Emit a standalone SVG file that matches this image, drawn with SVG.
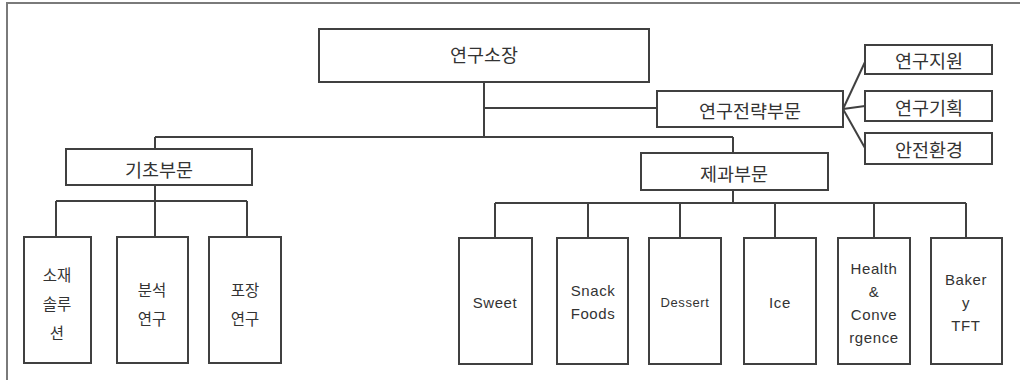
<svg xmlns="http://www.w3.org/2000/svg" width="1020" height="380" viewBox="0 0 1020 380">
<style>
.box{fill:#fff;stroke:#404040;stroke-width:2}
.ln{fill:none;stroke:#404040;stroke-width:2}
.frame{fill:none;stroke:#7a7a7a;stroke-width:2}
.ko{font-family:"Noto Sans CJK KR","Noto Sans",sans-serif;fill:#333;text-anchor:middle;dominant-baseline:central}
.big{font-size:18.5px}
.sm{font-size:15.5px}
.en{font-family:"Liberation Sans",Arial,sans-serif;font-size:15px;fill:#333;text-anchor:middle;dominant-baseline:central;letter-spacing:0.6px}
</style>
<rect width="1020" height="380" fill="#fff"/>
<path class="frame" d="M7,380 V3 H1020"/>
<g id="connectors">
<path class="ln" d="M484,82 V137"/>
<path class="ln" d="M484,108 H657"/>
<path class="ln" d="M155,137 H733"/>
<path class="ln" d="M155,137 V149"/>
<path class="ln" d="M733,137 V153"/>
<path class="ln" d="M843,109 L865,62"/>
<path class="ln" d="M843,109 L865,106"/>
<path class="ln" d="M843,109 L865,148"/>
<path class="ln" d="M155,185 V237"/>
<path class="ln" d="M56,201 H247"/>
<path class="ln" d="M56,201 V237 M247,201 V237"/>
<path class="ln" d="M733,190 V203"/>
<path class="ln" d="M495,203 H966"/>
<path class="ln" d="M495,203 V238 M588,203 V238 M680,203 V238 M775,203 V238 M874,203 V238 M966,203 V238"/>
</g>
<g id="n-director"><rect class="box" x="319" y="29" width="330" height="53"/><text class="ko big" x="484" y="54">연구소장</text></g>
<g id="n-strategy"><rect class="box" x="657" y="91" width="186" height="36"/><text class="ko big" x="750" y="110">연구전략부문</text></g>
<g id="n-support"><rect class="box" x="865" y="45" width="127" height="29"/><text class="ko big" x="929" y="60">연구지원</text></g>
<g id="n-planning"><rect class="box" x="865" y="91" width="127" height="30"/><text class="ko big" x="929" y="107">연구기획</text></g>
<g id="n-safety"><rect class="box" x="865" y="133" width="127" height="31"/><text class="ko big" x="929" y="149">안전환경</text></g>
<g id="n-basic"><rect class="box" x="66" y="149" width="186" height="36"/><text class="ko big" x="159" y="169">기초부문</text></g>
<g id="n-confect"><rect class="box" x="641" y="153" width="187" height="37"/><text class="ko big" x="734" y="173">제과부문</text></g>
<g id="n-material"><rect class="box" x="24" y="237" width="67" height="126"/><text class="ko sm" x="57" y="274">소재</text><text class="ko sm" x="57" y="303">솔루</text><text class="ko sm" x="57" y="332">션</text></g>
<g id="n-analysis"><rect class="box" x="117" y="237" width="71" height="126"/><text class="ko sm" x="152" y="289">분석</text><text class="ko sm" x="152" y="318">연구</text></g>
<g id="n-packaging"><rect class="box" x="209" y="237" width="72" height="126"/><text class="ko sm" x="245" y="289">포장</text><text class="ko sm" x="245" y="318">연구</text></g>
<g id="n-sweet"><rect class="box" x="459" y="238" width="73" height="126"/><text class="en" x="495" y="302">Sweet</text></g>
<g id="n-snack"><rect class="box" x="557" y="238" width="71" height="126"/><text class="en" x="593" y="290">Snack</text><text class="en" x="593" y="313">Foods</text></g>
<g id="n-dessert"><rect class="box" x="649" y="238" width="72" height="126"/><text class="en" x="685" y="302" style="font-size:13px">Dessert</text></g>
<g id="n-ice"><rect class="box" x="744" y="238" width="72" height="126"/><text class="en" x="780" y="302">Ice</text></g>
<g id="n-health"><rect class="box" x="838" y="238" width="72" height="126"/><text class="en" x="874" y="268">Health</text><text class="en" x="874" y="291">&amp;</text><text class="en" x="874" y="314">Conve</text><text class="en" x="874" y="337">rgence</text></g>
<g id="n-bakery"><rect class="box" x="931" y="238" width="71" height="126"/><text class="en" x="966" y="279">Baker</text><text class="en" x="966" y="302">y</text><text class="en" x="966" y="325">TFT</text></g>
</svg>
